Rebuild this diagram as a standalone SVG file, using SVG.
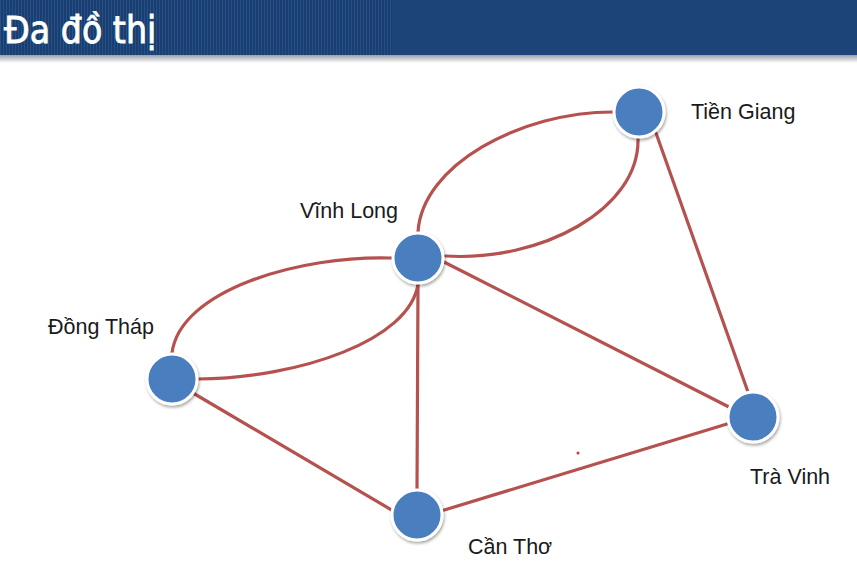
<svg xmlns="http://www.w3.org/2000/svg" width="857" height="582" viewBox="0 0 857 582">
<defs>
<pattern id="stripes" width="3" height="10" patternUnits="userSpaceOnUse">
<rect width="3" height="10" fill="#1a3f6e"/>
<rect width="1" height="10" fill="#26508a"/>
</pattern>
<linearGradient id="shadow" x1="0" y1="0" x2="0" y2="1">
<stop offset="0" stop-color="#9aa0a8"/>
<stop offset="1" stop-color="#ffffff"/>
</linearGradient>
<filter id="ds" x="-30%" y="-30%" width="160%" height="160%">
<feDropShadow dx="1" dy="2" stdDeviation="1.5" flood-color="#000" flood-opacity="0.35"/>
</filter>
</defs>
<style>
.edge{fill:none;stroke:#b5514e;stroke-width:3.2;stroke-linecap:round}
.node{fill:#4a7ebf;stroke:#ffffff;stroke-width:3;filter:url(#ds)}
.label{font-family:"Liberation Sans",Arial,sans-serif;font-size:21.5px;fill:#1a1a1a}
.title{font-family:"DejaVu Sans Condensed","DejaVu Sans",sans-serif;font-size:37px;fill:#ffffff;stroke:#ffffff;stroke-width:0.8}
</style>
<rect width="857" height="582" fill="#ffffff"/>
<g id="header">
<rect x="0" y="55" width="857" height="8" fill="url(#shadow)"/>
<rect x="0" y="0" width="857" height="55" fill="#1c4478"/>
<rect x="0" y="0" width="392" height="55" fill="url(#stripes)"/>
<text class="title" x="4" y="43">Đa đồ thị</text>
</g>
<g id="connectors">
<path class="edge" d="M418 232 C422 165 520 112 613 112"/>
<path class="edge" d="M445 256 C540 262 640 210 638 138"/>
<path class="edge" d="M392 258 C300 255 180 290 172 353"/>
<path class="edge" d="M198 379 C300 378 410 340 418 284"/>
<path class="edge" d="M418 284 L417 490"/>
<path class="edge" d="M444 262 L729 407"/>
<path class="edge" d="M656 133 L748 392"/>
<path class="edge" d="M193 393 L395 512"/>
<path class="edge" d="M441 511 L727 424"/>
</g>
<circle cx="578" cy="453" r="1.5" fill="#e03030"/>
<g id="node-vinhlong"><circle class="node" cx="418" cy="258" r="25"/><text class="label" x="300" y="218">Vĩnh Long</text></g>
<g id="node-tiengiang"><circle class="node" cx="639" cy="112" r="25"/><text class="label" x="691" y="119">Tiền Giang</text></g>
<g id="node-dongthap"><circle class="node" cx="172" cy="379" r="25"/><text class="label" x="48" y="334">Đồng Tháp</text></g>
<g id="node-travinh"><circle class="node" cx="753" cy="417" r="25"/><text class="label" x="750" y="484">Trà Vinh</text></g>
<g id="node-cantho"><circle class="node" cx="417" cy="515" r="25"/><text class="label" x="468" y="554">Cần Thơ</text></g>
</svg>
